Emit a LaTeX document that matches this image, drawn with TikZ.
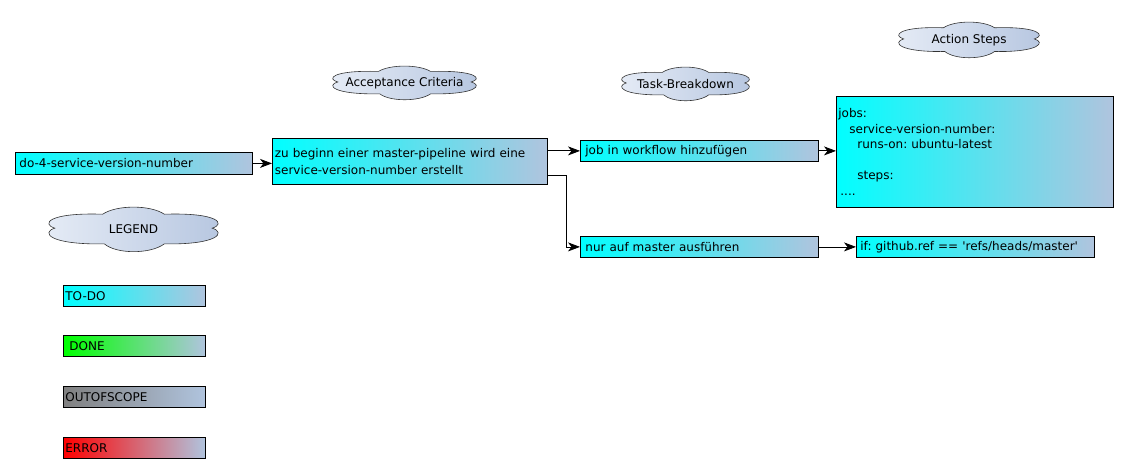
\documentclass[tikz,border=0pt]{standalone}
\usepackage{fontspec}
\setmainfont{DejaVu Sans}
\usetikzlibrary{arrows.meta,calc}
\frenchspacing
\definecolor{steel}{HTML}{B0C4DE}
\definecolor{cloudL}{HTML}{E6ECF6}
\definecolor{cloudR}{HTML}{B6C6E0}
\definecolor{todo}{HTML}{00FFFF}
\definecolor{done}{HTML}{00FF00}
\definecolor{oos}{HTML}{808080}
\definecolor{err}{HTML}{FF0000}
\tikzset{
  txt/.style={font=\fontsize{12}{16.5}\selectfont},
  box/.style={txt, draw=black, line width=0.8pt, left color=todo, right color=steel,
    align=left, inner xsep=4pt, inner ysep=0pt, anchor=north west},
  conn/.style={draw=black, line width=0.8pt, -{Stealth[length=12pt,width=9pt,inset=3.5pt]}},
  cloudshape/.style={draw=black!80, line width=0.6pt, left color=cloudL, right color=cloudR},
  cloudtxt/.style={txt},
}
\newcommand{\mycloud}[4]{% x y w h
  \begin{scope}[shift={(#1,#2)}, x=#3pt, y=#4pt]
    \path[cloudshape] (0.04,0.47)
      .. controls (-0.04,0.38) and (0.0,0.12) .. (0.32,0.16)
      .. controls (0.4,-0.05) and (0.6,-0.05) .. (0.68,0.16)
      .. controls (1.0,0.12) and (1.04,0.38) .. (0.96,0.47)
      .. controls (1.04,0.56) and (1.0,0.84) .. (0.68,0.82)
      .. controls (0.6,1.05) and (0.4,1.05) .. (0.33,0.82)
      .. controls (0.0,0.84) and (-0.04,0.56) .. (0.04,0.47) -- cycle;
  \end{scope}}
\begin{document}
\begin{tikzpicture}[x=1pt,y=-1pt]
\useasboundingbox (0,0) rectangle (1129,473);
% clouds
\mycloud{332}{66}{145}{-34}
\node[cloudtxt] (ac) at (404.5,83) {Acceptance Criteria};
\mycloud{621}{67}{129}{-34}
\node[cloudtxt] (tb) at (685.5,84) {Task-Breakdown};
\mycloud{898}{22}{142}{-36}
\node[cloudtxt] (as) at (969,40) {Action Steps};
\mycloud{48}{207}{171}{-45}
\node[cloudtxt] (lg) at (133.5,229) {LEGEND};
% boxes
\node[box, minimum width=237pt, text width=229pt, minimum height=22pt] (do4) at (15,152) {do-4-service-version-number};
\node[box, minimum width=275pt, text width=270pt, minimum height=46pt, inner xsep=2.5pt] (ac1) at (272,138) {zu beginn einer master-pipeline wird eine\\service-version-number erstellt};
\node[box, minimum width=238pt, text width=228pt, minimum height=21pt, inner xsep=5pt] (t1) at (580,140) {job in workflow hinzufügen};
\node[box, minimum width=238pt, text width=228pt, minimum height=21pt, inner xsep=5pt] (t2) at (580,236) {nur auf master ausführen};
\node[box, minimum width=277pt, text width=273pt, minimum height=111pt, inner xsep=2pt, font=\fontsize{12}{15.5}\selectfont] (s1) at (836,96) {jobs:\\\hspace*{11pt}service-version-number:\\\hspace*{19pt}runs-on: ubuntu-latest\\[15.5pt]\hspace*{19pt}steps:\\\hspace*{2pt}....};
\node[box, minimum width=238pt, text width=230pt, minimum height=21pt] (s2) at (856,236) {if: github.ref == \textquotesingle refs/heads/master\textquotesingle};
% legend
\node[box, minimum width=142pt, text width=138pt, minimum height=21pt, inner xsep=2pt] (lt) at (63,285) {TO-DO};
\node[box, left color=done, minimum width=142pt, text width=138pt, minimum height=21pt, inner xsep=2pt] (ld) at (63,335) {\hspace*{4pt}DONE};
\node[box, left color=oos, minimum width=142pt, text width=138pt, minimum height=21pt, inner xsep=2pt] (lo) at (63,386) {OUTOFSCOPE};
\node[box, left color=err, minimum width=142pt, text width=138pt, minimum height=21pt, inner xsep=2pt] (le) at (63,437) {ERROR};
% connectors
\draw[conn] (do4.east) -- (do4.east -| ac1.west);
\coordinate (e1) at (ac1.east |- t1.west);
\draw[conn] (e1) -- (t1.west);
\coordinate (e2) at ($(ac1.south east)!0.2!(ac1.north east)$);
\coordinate (b2) at (566,0);
\draw[conn] (e2) -- (e2 -| b2) -- (b2 |- t2.west) -- (t2.west);
\draw[conn] (t1.east) -- (t1.east -| s1.west);
\draw[conn] (t2.east) -- (s2.west);
\end{tikzpicture}
\end{document}
